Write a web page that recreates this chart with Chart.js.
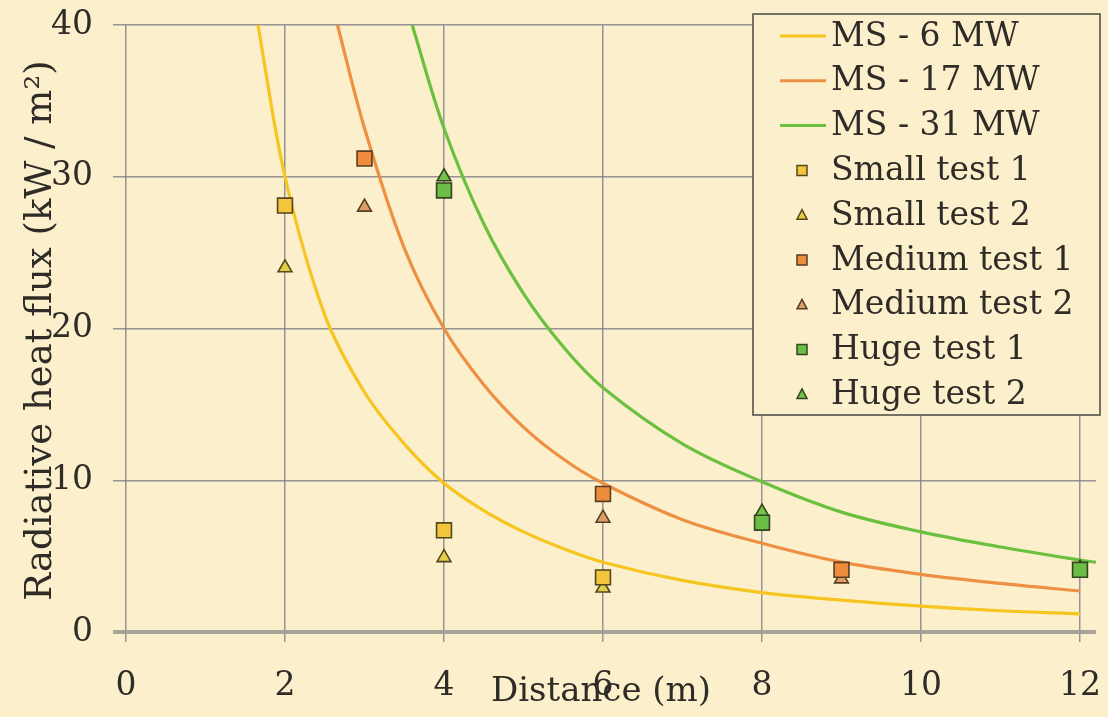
<!DOCTYPE html>
<html>
<head>
<meta charset="utf-8">
<script src="https://cdn.jsdelivr.net/npm/chart.js@4/dist/chart.umd.min.js"></script>
<style>
  html, body { margin: 0; padding: 0; background: #fbf0cb; }
  canvas { display: block; }
</style>
</head>
<body>
<canvas id="chart" width="1108" height="717"></canvas>
<script>
// MS model curves: distance (m) and radiative heat flux (kW/m²)
const ms6Dist  = [1.66, 2, 2.5, 3, 3.5, 4, 4.5, 5, 5.5, 6, 7, 8, 9, 10, 11, 12];
const ms6Flux  = [40, 30, 20.9, 15.8, 12.4, 9.8, 8.0, 6.6, 5.5, 4.6, 3.4, 2.6, 2.1, 1.7, 1.4, 1.2];

const ms17Dist = [2.66, 3, 3.5, 4, 4.5, 5, 5.5, 6, 7, 8, 9, 10, 11, 12];
const ms17Flux = [40, 33.2, 25.3, 20, 16.3, 13.5, 11.4, 9.8, 7.4, 5.85, 4.6, 3.8, 3.2, 2.7];

const ms31Dist = [3.6, 4, 4.5, 5, 5.5, 6, 7, 8, 9, 10, 11, 12, 12.2];
const ms31Flux = [40, 33.2, 26.9, 22.3, 18.8, 16.1, 12.4, 9.9, 7.9, 6.6, 5.6, 4.74, 4.6];

// Measured tests
const smallDist       = [2, 4, 6];
const smallTest1Flux  = [28.1, 6.7, 3.6];
const smallTest2Flux  = [24.0, 4.9, 2.9];

const mediumDist      = [3, 6, 9];
const mediumTest1Flux = [31.2, 9.1, 4.1];
const mediumTest2Flux = [28.0, 7.5, 3.5];

const hugeDist        = [4, 8, 12];
const hugeTest1Flux   = [29.1, 7.2, 4.1];
const hugeTest2Flux   = [30.0, 7.9, 4.2];

const FONT = "'DejaVu Serif', serif";
const TEXT = '#2f2b27';
const BG = '#fbf0cb';

const toXY = (xs, ys) => xs.map((x, i) => ({ x, y: ys[i] }));

function curve(label, xs, ys, color) {
  return {
    label, data: toXY(xs, ys), showLine: true, borderColor: color, backgroundColor: color,
    borderWidth: 3.2, pointRadius: 0, pointHoverRadius: 0, tension: 0.35,
    order: 2, legendKind: 'line'
  };
}
function marks(label, xs, ys, fill, edge, style) {
  return {
    label, data: toXY(xs, ys), showLine: false, pointStyle: style,
    pointRadius: style === 'rect' ? 10.5 : 8, pointBackgroundColor: fill,
    pointBorderColor: edge, pointBorderWidth: 1.6, backgroundColor: fill, borderColor: edge,
    order: 1, legendKind: style
  };
}

const datasets = [
  curve('MS - 6 MW',  ms6Dist,  ms6Flux,  '#f6c51f'),
  curve('MS - 17 MW', ms17Dist, ms17Flux, '#ee9044'),
  curve('MS - 31 MW', ms31Dist, ms31Flux, '#6cc040'),
  marks('Small test 1',  smallDist,  smallTest1Flux,  '#f2c53d', '#55461c', 'rect'),
  marks('Small test 2',  smallDist,  smallTest2Flux,  '#e2cf45', '#55461c', 'triangle'),
  marks('Medium test 1', mediumDist, mediumTest1Flux, '#ee8c3c', '#5a3e20', 'rect'),
  marks('Medium test 2', mediumDist, mediumTest2Flux, '#dd9d6a', '#5a3e20', 'triangle'),
  marks('Huge test 1',   hugeDist,   hugeTest1Flux,   '#6cbd46', '#34441f', 'rect'),
  marks('Huge test 2',   hugeDist,   hugeTest2Flux,   '#72c24c', '#34441f', 'triangle')
];

// Page background
const background = {
  id: 'background',
  beforeDraw(chart) {
    const ctx = chart.ctx;
    ctx.save();
    ctx.fillStyle = BG;
    ctx.fillRect(0, 0, chart.width, chart.height);
    ctx.restore();
  }
};

// Axis titles sit over the tick labels
const axisTitles = {
  id: 'axisTitles',
  afterDraw(chart) {
    const { ctx, chartArea, scales } = chart;
    ctx.save();
    ctx.fillStyle = TEXT;
    ctx.textAlign = 'center';
    ctx.textBaseline = 'middle';
    ctx.font = '34px ' + FONT;
    ctx.fillText('Distance (m)', scales.x.getPixelForValue(6) - 2, 692);
    ctx.font = '37px ' + FONT;
    ctx.translate(41, (chartArea.top + chartArea.bottom) / 2 + 2);
    ctx.rotate(-Math.PI / 2);
    ctx.fillText('Radiative heat flux (kW / m\u00B2)', 0, 0);
    ctx.restore();
  }
};

// Boxed legend in the upper right of the plot
const boxLegend = {
  id: 'boxLegend',
  afterDraw(chart) {
    const ctx = chart.ctx;
    const box = { left: 753, top: 14, right: 1100, bottom: 415 };
    ctx.save();
    ctx.fillStyle = BG;
    ctx.fillRect(box.left, box.top, box.right - box.left, box.bottom - box.top);
    ctx.strokeStyle = '#56524c';
    ctx.lineWidth = 1.6;
    ctx.strokeRect(box.left, box.top, box.right - box.left, box.bottom - box.top);
    ctx.font = '33px ' + FONT;
    ctx.textBaseline = 'middle';
    ctx.textAlign = 'left';
    const rowTop = 36, rowStep = 44.8, markX = 802;
    chart.data.datasets.forEach((ds, i) => {
      const y = rowTop + i * rowStep;
      if (ds.legendKind === 'line') {
        ctx.strokeStyle = ds.borderColor;
        ctx.lineWidth = 3;
        ctx.beginPath();
        ctx.moveTo(780, y); ctx.lineTo(826, y);
        ctx.stroke();
      } else {
        ctx.fillStyle = ds.pointBackgroundColor;
        ctx.strokeStyle = ds.pointBorderColor;
        ctx.lineWidth = 1.5;
        ctx.beginPath();
        if (ds.legendKind === 'rect') {
          ctx.rect(markX - 5, y - 5, 10, 10);
        } else {
          ctx.moveTo(markX, y - 5.5);
          ctx.lineTo(markX + 5, y + 4);
          ctx.lineTo(markX - 5, y + 4);
          ctx.closePath();
        }
        ctx.fill();
        ctx.stroke();
      }
      ctx.fillStyle = TEXT;
      ctx.fillText(ds.label, 831, y + 1);
    });
    ctx.restore();
  }
};

// Keep the plot area fixed: drop the extra room the tick labels ask for
function fixPadding(s) {
  s.paddingTop = 0; s.paddingBottom = 0; s.paddingLeft = 0; s.paddingRight = 0;
}

const gridColor = 'rgba(125,122,135,0.8)';

new Chart(document.getElementById('chart'), {
  type: 'scatter',
  data: { datasets },
  plugins: [background, axisTitles, boxLegend],
  options: {
    responsive: false,
    devicePixelRatio: 1,
    animation: false,
    events: [],
    layout: { padding: { left: 0, top: 25, right: 11, bottom: 0 } },
    plugins: { legend: { display: false }, tooltip: { enabled: false } },
    scales: {
      x: {
        type: 'linear', min: 0, max: 12.2,
        afterFit(s) { s.height = 85; fixPadding(s); },
        border: { display: false },
        grid: { color: gridColor, lineWidth: 1.5, tickLength: 10, drawTicks: true },
        ticks: { stepSize: 2, includeBounds: false, color: TEXT, padding: 25,
                 font: { family: FONT, size: 33 }, maxRotation: 0 }
      },
      y: {
        type: 'linear', min: 0, max: 40,
        afterFit(s) { s.width = 126; fixPadding(s); },
        border: { display: false },
        grid: {
          color: (c) => c.tick && c.tick.value === 0 ? 'rgba(165,158,148,0.95)' : gridColor,
          lineWidth: (c) => c.tick && c.tick.value === 0 ? 4 : 1.5,
          tickLength: 13, drawTicks: true
        },
        ticks: { stepSize: 10, color: TEXT, padding: 20, font: { family: FONT, size: 33 } }
      }
    }
  }
});
</script>
</body>
</html>
